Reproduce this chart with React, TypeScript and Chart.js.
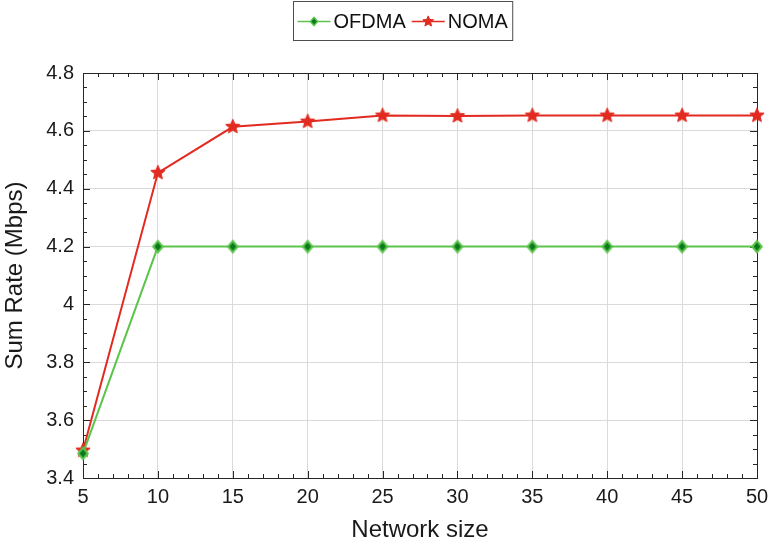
import React, { useEffect, useRef } from "react";
import { Chart, registerables } from "chart.js";

Chart.register(...registerables);

const networkSizes = [5, 10, 15, 20, 25, 30, 35, 40, 45, 50];
const ofdmaRates = [3.485, 4.2, 4.2, 4.2, 4.2, 4.2, 4.2, 4.2, 4.2, 4.2];
const nomaRates = [3.495, 4.455, 4.614, 4.632, 4.653, 4.651, 4.653, 4.653, 4.653, 4.653];
const xTickValues = [5, 10, 15, 20, 25, 30, 35, 40, 45, 50];
const yTickValues = [3.4, 3.6, 3.8, 4.0, 4.2, 4.4, 4.6, 4.8];
const seriesNames = ["OFDMA", "NOMA"];

const GREEN = "#5cc44c";
const GREEN_DARK = "#0b7a1c";
const RED = "#e22a20";
const AXIS = "#262626";
const FONT = "'Liberation Sans', Arial, Helvetica, sans-serif";

function drawStarPath(ctx: CanvasRenderingContext2D, cx: number, cy: number, ro: number, ri: number) {
  ctx.beginPath();
  for (let i = 0; i < 10; i++) {
    const r = i % 2 === 0 ? ro : ri;
    const a = -Math.PI / 2 + (i * Math.PI) / 5;
    const px = cx + r * Math.cos(a);
    const py = cy + r * Math.sin(a);
    if (i === 0) ctx.moveTo(px, py);
    else ctx.lineTo(px, py);
  }
  ctx.closePath();
}

function drawDiamondPath(ctx: CanvasRenderingContext2D, cx: number, cy: number, hw: number, hh: number) {
  ctx.beginPath();
  ctx.moveTo(cx, cy - hh);
  ctx.lineTo(cx + hw, cy);
  ctx.lineTo(cx, cy + hh);
  ctx.lineTo(cx - hw, cy);
  ctx.closePath();
}

function drawStar(ctx: CanvasRenderingContext2D, cx: number, cy: number, s = 1) {
  drawStarPath(ctx, cx, cy, 7.5 * s, 3.4 * s);
  ctx.fillStyle = RED;
  ctx.fill();
  ctx.strokeStyle = RED;
  ctx.lineWidth = 1;
  ctx.stroke();
}

function drawDiamond(ctx: CanvasRenderingContext2D, cx: number, cy: number, s = 1) {
  drawDiamondPath(ctx, cx, cy, 4.8 * s, 5.6 * s);
  ctx.fillStyle = GREEN_DARK;
  ctx.fill();
  ctx.strokeStyle = GREEN;
  ctx.lineWidth = 2 * s;
  ctx.stroke();
}

function makeMarker(kind: "star" | "diamond"): HTMLCanvasElement {
  const c = document.createElement("canvas");
  c.width = 18;
  c.height = 18;
  const ctx = c.getContext("2d")!;
  if (kind === "star") drawStar(ctx, 9, 9);
  else drawDiamond(ctx, 9, 9);
  return c;
}

const boxTicksPlugin = {
  id: "boxTicks",
  beforeDatasetsDraw(chart: any) {
    const { ctx, chartArea, scales } = chart;
    const { left, right, top, bottom } = chartArea;
    const xs = scales.x;
    const ys = scales.y;
    ctx.save();
    ctx.strokeStyle = AXIS;
    ctx.lineWidth = 1;
    ctx.beginPath();
    for (let v = 5; v <= 50; v++) {
      const px = Math.round(xs.getPixelForValue(v)) + 0.5;
      const len = v % 5 === 0 ? 7 : 4;
      ctx.moveTo(px, bottom);
      ctx.lineTo(px, bottom - len);
      ctx.moveTo(px, top);
      ctx.lineTo(px, top + len);
    }
    for (let i = 0; i <= 28; i++) {
      const v = 3.4 + i * 0.05;
      const py = Math.round(ys.getPixelForValue(v)) + 0.5;
      const len = i % 4 === 0 ? 7 : 4;
      ctx.moveTo(left, py);
      ctx.lineTo(left + len, py);
      ctx.moveTo(right, py);
      ctx.lineTo(right - len, py);
    }
    ctx.stroke();
    ctx.strokeRect(Math.round(left) + 0.5, Math.round(top) + 0.5, Math.round(right - left), Math.round(bottom - top));
    ctx.restore();
  },
};

const legendPlugin = {
  id: "boxLegend",
  afterDraw(chart: any) {
    const { ctx } = chart;
    ctx.save();
    ctx.font = `20px ${FONT}`;
    ctx.textBaseline = "middle";
    ctx.textAlign = "left";
    const boxLeft = 293.5;
    const boxTop = 1.5;
    const cy = 21.5;
    const lineLen = 33;
    const gapAfterLine = 3;
    const gapBetween = 6;
    let x = boxLeft + 4;
    const w0 = ctx.measureText(seriesNames[0]).width;
    const w1 = ctx.measureText(seriesNames[1]).width;
    const boxWidth = 4 + lineLen + gapAfterLine + w0 + gapBetween + lineLen + gapAfterLine + w1 + 5;
    ctx.fillStyle = "#ffffff";
    ctx.fillRect(boxLeft, boxTop, boxWidth, 39);
    ctx.strokeStyle = "#4d4d4d";
    ctx.lineWidth = 1;
    ctx.strokeRect(boxLeft, boxTop, boxWidth, 39);

    // OFDMA
    ctx.strokeStyle = GREEN;
    ctx.lineWidth = 1.5;
    ctx.beginPath();
    ctx.moveTo(x, cy);
    ctx.lineTo(x + lineLen, cy);
    ctx.stroke();
    drawDiamond(ctx, x + lineLen / 2, cy, 0.75);
    x += lineLen + gapAfterLine;
    ctx.fillStyle = "#111111";
    ctx.fillText(seriesNames[0], x, cy + 1);
    x += w0 + gapBetween;

    // NOMA
    ctx.strokeStyle = RED;
    ctx.lineWidth = 1.5;
    ctx.beginPath();
    ctx.moveTo(x, cy);
    ctx.lineTo(x + lineLen, cy);
    ctx.stroke();
    drawStar(ctx, x + lineLen / 2, cy, 0.75);
    x += lineLen + gapAfterLine;
    ctx.fillStyle = "#111111";
    ctx.fillText(seriesNames[1], x, cy + 1);
    ctx.restore();
  },
};

export default function App() {
  const canvasRef = useRef<HTMLCanvasElement | null>(null);

  useEffect(() => {
    if (!canvasRef.current) return;
    const diamond = makeMarker("diamond");
    const star = makeMarker("star");
    const chart = new Chart(canvasRef.current, {
      type: "line",
      data: {
        datasets: [
          {
            label: seriesNames[0],
            data: networkSizes.map((x, i) => ({ x, y: ofdmaRates[i] })),
            borderColor: GREEN,
            backgroundColor: GREEN,
            borderWidth: 2,
            pointStyle: diamond as any,
            pointRadius: 6,
            clip: false as any,
            tension: 0,
          },
          {
            label: seriesNames[1],
            data: networkSizes.map((x, i) => ({ x, y: nomaRates[i] })),
            borderColor: RED,
            backgroundColor: RED,
            borderWidth: 2,
            pointStyle: star as any,
            pointRadius: 7,
            clip: false as any,
            tension: 0,
          },
        ],
      },
      options: {
        responsive: false,
        animation: false,
        devicePixelRatio: 1,
        layout: { padding: { top: 73, right: 13, left: 0, bottom: 0 } },
        plugins: {
          legend: { display: false },
          tooltip: { enabled: false },
          title: { display: false },
        },
        scales: {
          x: {
            type: "linear",
            min: 5,
            max: 50,
            afterBuildTicks: (scale: any) => {
              scale.ticks = xTickValues.map((v) => ({ value: v }));
            },
            afterFit: (scale: any) => {
              scale.height = 67;
              scale.paddingRight = 0;
              scale.paddingLeft = 0;
            },
            grid: { color: "#dadada", lineWidth: 1, drawTicks: false },
            border: { display: false },
            ticks: {
              padding: 7,
              color: "#1a1a1a",
              font: { family: FONT, size: 20 },
              maxRotation: 0,
              autoSkip: false,
            },
            title: {
              display: true,
              text: "Network size",
              color: "#1a1a1a",
              font: { family: FONT, size: 24 },
              padding: { top: 0, bottom: 0 },
            },
          },
          y: {
            type: "linear",
            min: 3.4,
            max: 4.8,
            afterBuildTicks: (scale: any) => {
              scale.ticks = yTickValues.map((v) => ({ value: v }));
            },
            afterFit: (scale: any) => {
              scale.width = 83;
              scale.paddingTop = 0;
              scale.paddingBottom = 0;
            },
            grid: { color: "#dadada", lineWidth: 1, drawTicks: false },
            border: { display: false },
            ticks: {
              padding: 9,
              color: "#1a1a1a",
              font: { family: FONT, size: 20 },
              callback: (v: any) => String(Math.round(Number(v) * 10) / 10),
            },
            title: {
              display: true,
              text: "Sum Rate (Mbps)",
              color: "#1a1a1a",
              font: { family: FONT, size: 24 },
              padding: { top: 1, bottom: 0 },
            },
          },
        },
      },
      plugins: [boxTicksPlugin, legendPlugin],
    });
    return () => chart.destroy();
  }, []);

  return (
    <div style={{ position: "absolute", left: 0, top: 0, width: 770, height: 545, background: "#ffffff" }}>
      <canvas ref={canvasRef} width={770} height={545} style={{ display: "block", width: 770, height: 545 }} />
    </div>
  );
}
